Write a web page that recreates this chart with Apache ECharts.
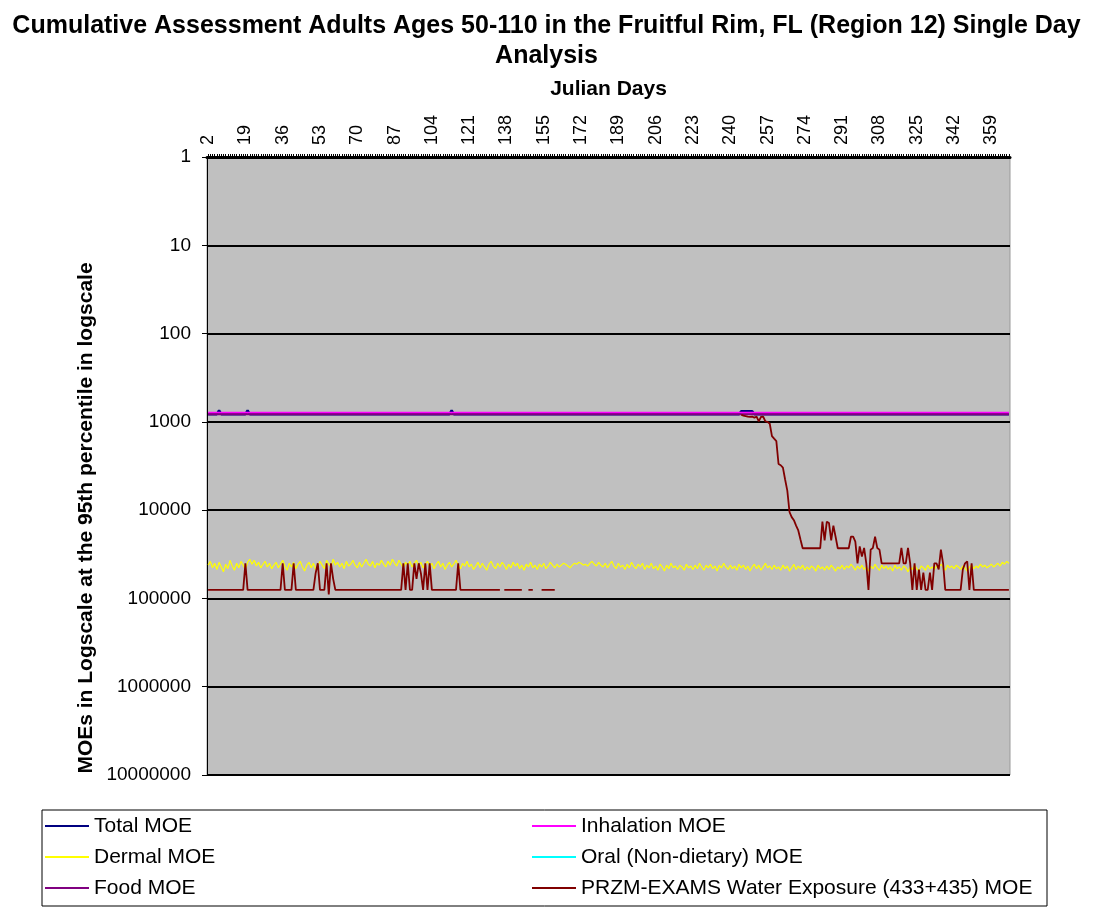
<!DOCTYPE html>
<html>
<head>
<meta charset="utf-8">
<title>Cumulative Assessment Adults Ages 50-110</title>
<script src="https://cdn.jsdelivr.net/npm/echarts@6/dist/echarts.min.js"></script>
<style>
html, body { margin: 0; padding: 0; background: #fff; }
#main { width: 1093px; height: 908px; }
</style>
</head>
<body>
<div id="main"></div>
<script>
// tick labels
var xTickLabels = [2, 19, 36, 53, 70, 87, 104, 121, 138, 155, 172, 189, 206, 223, 240, 257, 274, 291, 308, 325, 342, 359];
var yTickLabels = [1, 10, 100, 1000, 10000, 100000, 1000000, 10000000];

// [julian day, MOE]
var totalMoe = [[2, 820], [6, 820], [7, 740], [8, 820], [19, 820], [20, 740], [21, 820], [112, 820], [113, 740], [114, 820],
  [244, 820], [245, 760], [250, 760], [251, 820], [367, 820]];
var inhalationMoe = [[2, 790], [367, 790]];
var oralMoe = [];
var foodMoe = [[2, 820], [367, 820]];

// dermal, one value per day starting at day 2
var dermalMoe = [
  42000, 38000, 45000, 40000, 47000, 39000, 44000, 50000, 41000, 46000, 37000, 43000, 48000, 40000, 45000, 38000, 42000, 47000, 39000, 36000,
  41000, 37000, 43000, 39000, 45000, 41000, 38000, 44000, 40000, 46000, 42000, 39000, 45000, 41000, 37000, 43000, 48000, 40000, 44000, 39000,
  46000, 41000, 38000, 44000, 49000, 42000, 39000, 45000, 40000, 47000, 43000, 38000, 42000, 46000, 37000, 41000, 44000, 36000, 42000, 39000,
  44000, 40000, 46000, 38000, 43000, 41000, 37000, 42000, 45000, 39000, 44000, 40000, 36000, 41000, 43000, 38000, 45000, 40000, 42000, 37000,
  41000, 44000, 38000, 42000, 36000, 40000, 43000, 37000, 41000, 45000, 39000, 42000, 38000, 44000, 40000, 37000, 43000, 39000, 45000, 41000,
  38000, 43000, 40000, 46000, 41000, 38000, 44000, 40000, 47000, 42000, 39000, 44000, 41000, 37000, 42000, 46000, 40000, 43000, 38000, 44000,
  41000, 47000, 43000, 39000, 45000, 40000, 44000, 48000, 41000, 38000, 43000, 46000, 40000, 44000, 39000, 42000, 47000, 41000, 45000, 39000,
  43000, 40000, 46000, 42000, 48000, 41000, 44000, 39000, 45000, 42000, 47000, 41000, 44000, 40000, 46000, 43000, 39000, 42000, 45000, 41000,
  44000, 42000, 40000, 41000, 43000, 45000, 42000, 40000, 41000, 39000, 40000, 42000, 41000, 43000, 40000, 38000, 41000, 43000, 39000, 42000,
  44000, 40000, 45000, 41000, 38000, 43000, 46000, 40000, 44000, 42000, 47000, 41000, 45000, 39000, 43000, 46000, 41000, 44000, 40000, 47000,
  42000, 45000, 40000, 46000, 43000, 48000, 41000, 44000, 49000, 42000, 46000, 40000, 45000, 43000, 47000, 42000, 44000, 48000, 41000, 45000,
  43000, 47000, 42000, 46000, 40000, 44000, 48000, 42000, 45000, 41000, 46000, 43000, 49000, 42000, 45000, 40000, 44000, 47000, 42000, 46000,
  43000, 48000, 41000, 45000, 42000, 47000, 43000, 49000, 44000, 41000, 46000, 42000, 48000, 44000, 40000, 45000, 43000, 47000, 42000, 46000,
  44000, 48000, 42000, 46000, 43000, 49000, 45000, 41000, 47000, 43000, 46000, 42000, 48000, 44000, 47000, 43000, 45000, 49000, 42000, 46000,
  44000, 48000, 43000, 47000, 42000, 45000, 49000, 44000, 46000, 42000, 47000, 43000, 45000, 41000, 44000, 48000, 43000, 46000, 42000, 47000,
  44000, 49000, 43000, 46000, 41000, 45000, 48000, 42000, 46000, 43000, 47000, 44000, 49000, 42000, 46000, 44000, 48000, 43000, 45000, 50000,
  44000, 47000, 42000, 46000, 49000, 43000, 45000, 48000, 42000, 46000, 44000, 47000, 43000, 45000, 41000, 44000, 48000, 42000, 45000, 43000,
  46000, 42000, 44000, 47000, 43000, 45000, 49000, 44000, 42000, 46000, 43000, 45000, 41000, 44000, 42000, 45000, 43000, 41000, 44000, 42000,
  40000, 43000, 39000, 41000, 38000, 40000
];
var dermalStartDay = 2;

// water: [day, MOE], null = no value that day
var waterMoe = [
  [2, 80000], [18, 80000], [19, 40000], [20, 80000],
  [35, 80000], [36, 40000], [37, 80000],
  [40, 80000], [41, 40000], [42, 80000],
  [50, 80000], [51, 52000], [52, 40000], [53, 80000],
  [55, 80000], [56, 40000], [57, 90000], [58, 40000], [59, 60000], [60, 80000],
  [90, 80000], [91, 40000], [92, 80000], [93, 40000], [94, 80000], [95, 80000], [96, 40000], [97, 60000],
  [98, 40000], [99, 52000], [100, 80000], [101, 40000], [102, 80000], [103, 40000], [104, 80000],
  [115, 80000], [116, 40000], [117, 80000], [135, 80000], [136, null],
  [137, 80000], [145, 80000], [146, null],
  [148, 80000], [150, 80000], [151, null],
  [154, 80000], [160, 80000], [161, null],
  [245, 830], [246, 850], [247, 860], [248, 870], [249, 880], [250, 870], [251, 900], [252, 870], [253, 990],
  [254, 880], [255, 870], [256, 990], [257, 1000], [258, 1050], [259, 1450], [260, 1550], [261, 1650],
  [262, 3000], [263, 3100], [264, 3300], [265, 4500], [266, 6000], [267, 10500], [268, 12000], [269, 13000],
  [270, 15000], [271, 17000], [272, 21500], [273, 27000], [281, 27000],
  [282, 13500], [283, 22000], [284, 13500], [285, 14000], [286, 22000], [287, 15000], [288, 20000], [289, 27000],
  [294, 27000], [295, 20000], [296, 20000], [297, 22700], [298, 40000], [299, 25800], [300, 33600], [301, 26800],
  [302, 40000], [303, 80000], [304, 28000], [305, 26800], [306, 20000], [307, 26800], [308, 28000], [309, 40000],
  [317, 40000], [318, 26800], [319, 40000], [320, 40000], [321, 26800], [322, 40000], [323, 80000], [324, 40000],
  [325, 80000], [326, 47000], [327, 80000], [328, 51000], [329, 80000], [330, 80000], [331, 51000], [332, 80000],
  [333, 40000], [334, 40000], [335, 47000], [336, 28000], [337, 40000], [338, 80000], [345, 80000],
  [346, 47000], [347, 40000], [348, 38000], [349, 80000], [350, 40000], [351, 80000], [367, 80000]
];

var dayTicks = [];
for (var d = 2; d <= 367; d++) dayTicks.push(d);

var dermalData = dermalMoe.map(function (v, i) { return [dermalStartDay + i, v]; });

var font = 'Liberation Sans, Arial, sans-serif';

var myChart = echarts.init(document.getElementById('main'));

function lineSeries(name, color, data, width) {
  return {
    name: name,
    type: 'line',
    data: data,
    showSymbol: false,
    symbol: 'none',
    animation: false,
    connectNulls: false,
    lineStyle: { color: color, width: width },
    itemStyle: { color: color }
  };
}

var legendText = { color: '#000', fontFamily: font, fontSize: 21, lineHeight: 22 };

myChart.setOption({
  backgroundColor: '#fff',
  animation: false,
  title: {
    text: 'Cumulative Assessment Adults Ages 50-110 in the Fruitful Rim, FL (Region 12) Single Day\nAnalysis',
    left: 'center',
    top: 6,
    textStyle: { fontFamily: font, fontWeight: 'bold', fontSize: 25, lineHeight: 30, color: '#000' }
  },
  grid: {
    left: 207, right: 83, top: 157, bottom: 133,
    show: true,
    backgroundColor: '#C0C0C0',
    borderColor: '#9a9a9a',
    borderWidth: 1
  },
  legend: [
    {
      data: ['Total MOE', 'Dermal MOE', 'Food MOE'],
      orient: 'vertical', left: 45, top: 815, itemGap: 9, padding: 0,
      itemWidth: 44, itemHeight: 2, icon: 'rect',
      textStyle: legendText, z: 5
    },
    {
      data: ['Inhalation MOE', 'Oral (Non-dietary) MOE', 'PRZM-EXAMS Water Exposure (433+435) MOE'],
      orient: 'vertical', left: 532, top: 815, itemGap: 9, padding: 0,
      itemWidth: 44, itemHeight: 2, icon: 'rect',
      textStyle: legendText, z: 5
    }
  ],
  xAxis: {
    type: 'value',
    position: 'top',
    min: 1.5,
    max: 367.5,
    name: 'Julian Days',
    nameLocation: 'middle',
    nameGap: 57,
    nameTextStyle: { fontFamily: font, fontWeight: 'bold', fontSize: 21, color: '#000' },
    axisLine: { show: true, onZero: false, lineStyle: { color: '#000', width: 3 } },
    axisTick: { show: true, length: 3, customValues: dayTicks, lineStyle: { color: '#000', width: 1 } },
    axisLabel: {
      customValues: xTickLabels,
      rotate: -90,
      margin: 12,
      fontFamily: font,
      fontSize: 18,
      color: '#000'
    },
    splitLine: { show: false }
  },
  yAxis: {
    type: 'log',
    logBase: 10,
    min: 1,
    max: 10000000,
    inverse: true,
    splitNumber: 7,
    axisLine: { show: true, lineStyle: { color: '#000', width: 1 } },
    axisTick: { show: true, length: 5, lineStyle: { color: '#000' } },
    axisLabel: {
      customValues: yTickLabels,
      margin: 16,
      fontFamily: font,
      fontSize: 19,
      color: '#000',
      formatter: function (v) { return String(Math.round(v)); }
    },
    splitLine: { show: true, lineStyle: { color: '#000', width: 2 } }
  },
  graphic: [
    {
      type: 'rect',
      z: 0,
      shape: { x: 42, y: 810, width: 1005, height: 96 },
      style: { fill: '#fff', stroke: '#000', lineWidth: 1 }
    },
    {
      type: 'text',
      z: 10,
      x: 86,
      y: 518,
      rotation: Math.PI / 2,
      style: {
        text: 'MOEs in Logscale at the 95th percentile in logscale',
        fontFamily: font,
        fontWeight: 'bold',
        fontSize: 21,
        fill: '#000',
        textAlign: 'center',
        textVerticalAlign: 'middle'
      }
    }
  ],
  series: [
    lineSeries('Total MOE', '#000080', totalMoe, 2.5),
    lineSeries('Inhalation MOE', '#FF00FF', inhalationMoe, 2),
    lineSeries('Dermal MOE', '#FFFF00', dermalData, 1.2),
    lineSeries('Oral (Non-dietary) MOE', '#00FFFF', oralMoe, 1.5),
    lineSeries('Food MOE', '#800080', foodMoe, 2),
    lineSeries('PRZM-EXAMS Water Exposure (433+435) MOE', '#800000', waterMoe, 1.8)
  ]
});
</script>
</body>
</html>
